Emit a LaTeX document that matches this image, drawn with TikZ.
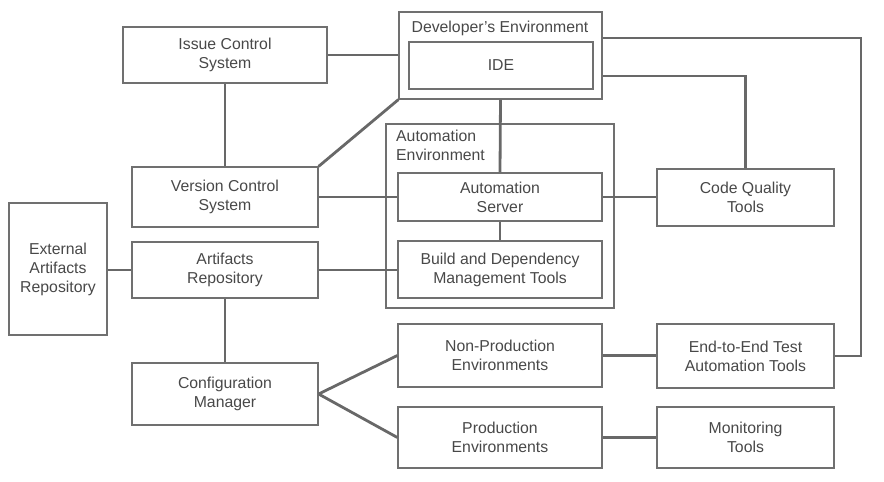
\documentclass[tikz,border=0pt]{standalone}
\usepackage{fontspec}
\setmainfont{Liberation Sans}
\definecolor{boxc}{HTML}{707070}
\definecolor{linec}{HTML}{686868}
\definecolor{txtc}{HTML}{484848}
\begin{document}
\begin{tikzpicture}[x=1pt,y=-1pt,
  every node/.style={font=\fontsize{15.8}{19}\selectfont, text=txtc},
  box/.style={draw=boxc, line width=1.2pt, rectangle, align=center, inner sep=0pt},
  conn/.style={draw=linec, line width=2.8pt}]
\useasboundingbox (0,0) rectangle (884,482);
% boxes
\node[box, minimum width=204pt, minimum height=56pt] (ics) at (225,55) {Issue Control\\System};
\node[box, minimum width=203pt, minimum height=87pt] (dev) at (500.5,55.5) {};
\node[anchor=base] (devl) at (500,32) {Developer’s Environment};
\node[box, minimum width=184pt, minimum height=47pt] (ide) at (501,65.5) {IDE};
\node[box, minimum width=228pt, minimum height=184pt] (aenv) at (500,216) {};
\node[anchor=north west, align=left, inner sep=0pt] (aenvl) at (396,130) {Automation\\Environment};
\node[box, minimum width=186pt, minimum height=60pt] (vcs) at (225,197) {Version Control\\System};
\node[box, fill=white, minimum width=204pt, minimum height=48pt] (as) at (500,197) {Automation\\Server};
\node[box, minimum width=204pt, minimum height=57pt] (bdm) at (500,269.5) {Build and Dependency\\Management Tools};
\node[box, minimum width=177pt, minimum height=57pt] (cqt) at (745.5,197.5) {Code Quality\\Tools};
\node[box, minimum width=98pt, minimum height=132pt] (ext) at (58,269) {External\\Artifacts\\Repository};
\node[box, minimum width=186pt, minimum height=56pt] (art) at (225,270) {Artifacts\\Repository};
\node[box, minimum width=186pt, minimum height=62pt] (cm) at (225,394) {Configuration\\Manager};
\node[box, minimum width=204pt, minimum height=63pt] (np) at (500,355.5) {Non-Production\\Environments};
\node[box, minimum width=204pt, minimum height=61pt] (prod) at (500,437.5) {Production\\Environments};
\node[box, minimum width=177pt, minimum height=64pt] (e2e) at (745.5,356) {End-to-End Test\\Automation Tools};
\node[box, minimum width=177pt, minimum height=61pt] (mon) at (745.5,437.5) {Monitoring\\Tools};
\coordinate (rr) at (861,38);
% connectors
\draw[conn] (ics.east) -- (dev.west |- ics.east);
\draw[conn] (ics.south) -- (vcs.north);
\draw[conn] (vcs.north east) -- (dev.south west);
\draw[conn] (vcs.east) -- (as.west);
\draw[conn] (dev.south) -- (as.north);
\draw[conn] (as.east) -- (as.east -| cqt.west);
\draw[conn] ([yshift=-20.5pt]dev.east) -| (cqt.north);
\draw[conn] ([yshift=17.5pt]dev.east) -- (rr) |- (e2e.east);
\draw[conn] (as.south) -- (bdm.north);
\draw[conn] (art.west -| ext.east) -- (art.west);
\draw[conn] (art.east) -- (art.east -| bdm.west);
\draw[conn] (art.south) -- (cm.north);
\draw[conn] (cm.east) -- (np.west);
\draw[conn] (cm.east) -- (prod.west);
\draw[conn] (np.east) -- (np.east -| e2e.west);
\draw[conn] (prod.east) -- (mon.west);
\end{tikzpicture}
\end{document}
